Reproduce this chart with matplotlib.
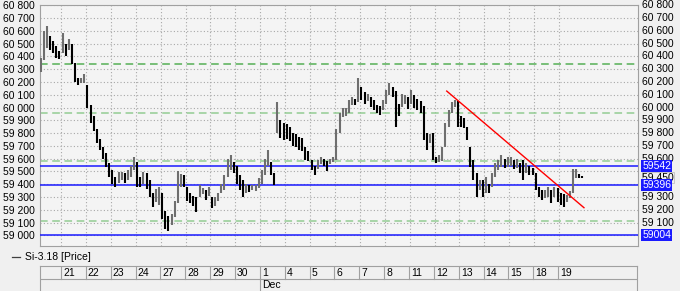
import numpy as np
import matplotlib
matplotlib.use("Agg")
import matplotlib.pyplot as plt
from matplotlib.lines import Line2D

plt.rcParams['font.family'] = ['Liberation Sans', 'DejaVu Sans']

# trading days shown on the time axis (first one is only partly visible)
day_labels = ["20", "21", "22", "23", "24", "27", "28", "29", "30", "1", "4",
              "5", "6", "7", "8", "11", "12", "13", "14", "15", "18", "19"]
month_label = "Dec"
month_start = 9  # index of "1" in day_labels
bars_per_day = [7] + [8] * 21

# bar highs / lows, day by day
highs = [60390, 60600, 60640, 60560, 60520, 60480, 60440,
         60585, 60500, 60535, 60500, 60350, 60235, 60230, 60265,
         60180, 60020, 59930, 59830, 59750, 59690, 59645, 59565,
         59510, 59460, 59495, 59495, 59490, 59510, 59540, 59615,
         59570, 59460, 59495, 59485, 59430, 59330, 59360, 59380,
         59330, 59190, 59150, 59170, 59270, 59500, 59480, 59470,
         59380, 59330, 59310, 59300, 59390, 59370, 59355, 59380,
         59300, 59300, 59330, 59405, 59470, 59600, 59630, 59570,
         59540, 59470, 59430, 59405, 59390, 59390, 59395, 59445,
         59510, 59600, 59670, 59570, 59490, 60045, 59900, 59880,
         59870, 59850, 59800, 59790, 59770, 59760, 59690, 59660,
         59590, 59540, 59590, 59615, 59600, 59580, 59600, 59615,
         59830, 59960, 60000, 60000, 60060, 60080, 60070, 60230,
         60160, 60120, 60110, 60080, 60060, 60020, 60010, 60060,
         60140, 60190, 60160, 60130, 60030, 60110, 60100, 60080,
         60135, 60100, 60070, 60055, 60010, 59800, 59790, 59800,
         59615, 59630, 59690, 59880, 59980, 60040, 60060, 60050,
         59930, 59920, 59850, 59690, 59590, 59485, 59430, 59430,
         59455, 59405, 59485, 59565, 59590, 59630, 59600, 59615,
         59615, 59590, 59600, 59565, 59590, 59565, 59540, 59530,
         59485, 59380, 59355, 59355, 59380, 59355, 59380, 59370,
         59330, 59320, 59315, 59345, 59515, 59520, 59480, 59465]
lows = [60280, 60370, 60470, 60450, 60430, 60390, 60380,
        60430, 60400, 60450, 60340, 60200, 60175, 60190, 60195,
        60000, 59880, 59820, 59720, 59665, 59600, 59535, 59455,
        59400, 59375, 59410, 59430, 59410, 59435, 59455, 59510,
        59380, 59380, 59405, 59360, 59300, 59220, 59260, 59240,
        59130, 59050, 59030, 59080, 59140, 59250, 59380, 59380,
        59270, 59250, 59230, 59180, 59300, 59320, 59280, 59310,
        59210, 59230, 59270, 59330, 59355, 59460, 59510, 59485,
        59400, 59355, 59300, 59330, 59340, 59355, 59350, 59370,
        59405, 59470, 59540, 59470, 59390, 59800, 59760, 59745,
        59750, 59740, 59700, 59690, 59670, 59660, 59590, 59580,
        59510, 59470, 59520, 59560, 59545, 59500, 59560, 59570,
        59590, 59800, 59925, 59930, 59955, 60020, 60020, 60040,
        60060, 60030, 60050, 60005, 59980, 59955, 59945, 59980,
        60030, 60100, 60080, 59850, 59930, 60005, 60030, 59990,
        60030, 60000, 59980, 59955, 59745, 59670, 59720, 59590,
        59565, 59575, 59580, 59690, 59850, 59960, 60005, 59850,
        59850, 59840, 59745, 59535, 59430, 59300, 59355, 59300,
        59330, 59330, 59380, 59455, 59510, 59535, 59530, 59535,
        59540, 59520, 59525, 59485, 59430, 59485, 59470, 59470,
        59355, 59300, 59275, 59290, 59300, 59250, 59300, 59260,
        59235, 59225, 59260, 59295, 59330, 59450, 59450, 59445]
last_price = 59450

green_levels = [60340, 59960, 59584, 59114]
blue_levels = [59542, 59396, 59004]
trend_start = (16.49, 60129)
trend_end = (22.0, 59216)

W, H = 680, 291
fig = plt.figure(figsize=(W / 100, H / 100), dpi=100, facecolor='#f0f0f0')
ax = fig.add_axes([40 / W, (H - 246) / H, 598 / W, 241 / H], facecolor='#f4f4f4')
ax.set_xlim(0.157, 24.17)
ax.set_ylim(58916, 60803)

# bar positions: 8 slots per day, first day only the last 7 slots
xs = []
for d, n in enumerate(bars_per_day):
    for k in range(8 - n, 8):
        xs.append(d + (k + 0.5) / 8)
xs = np.array(xs)
highs = np.array(highs)
lows = np.array(lows)
mids = (highs + lows) / 2
prev = np.concatenate([[mids[0]], mids[:-1]])
cols = np.where(mids >= prev, '#6e6e6e', '#000000')
ax.vlines(xs, lows, highs, colors=cols, lw=1.5, zorder=4)

# grid
yt = np.arange(59000, 60801, 100)
for v in yt:
    ax.axhline(v, color='#a8a8a8', lw=0.8, ls=(0, (1, 2)), zorder=1)
for d in range(1, len(day_labels)):
    ax.axvline(d, color='#a8a8a8', lw=0.8, ls=(0, (1, 2)), zorder=1)

for i, v in enumerate(green_levels):
    c = '#55b055' if i == 0 else '#93cc93'
    ax.axhline(v, color=c, lw=1.1, ls=(0, (5, 3)), zorder=2)
for v in blue_levels:
    ax.axhline(v, color='#1a1aff', lw=1.1, zorder=3)

ax.plot([trend_start[0], trend_end[0]], [trend_start[1], trend_end[1]],
        color='#ff0000', lw=1.0, zorder=5)

ax.set_xticks([])
ax.set_yticks(yt)
fmt = lambda v: f"{v // 1000} {v % 1000:03d}"
ax.set_yticklabels([fmt(v) for v in yt])
ax.tick_params(axis='y', length=0, labelsize=7.5, pad=4, colors='#000000')
for s in ax.spines.values():
    s.set_color('#a0a0a0')
    s.set_linewidth(0.8)

# right side labels
tr = ax.get_yaxis_transform()
hidden = {59000, 59400, 59500}
for v in yt:
    if v in hidden:
        continue
    ax.text(1.007, v, fmt(v), transform=tr, fontsize=7.5, va='center', ha='left', clip_on=False)
ax.text(1.007, last_price, fmt(last_price), transform=tr, fontsize=7.5, va='center', ha='left',
        clip_on=False, zorder=9,
        bbox=dict(boxstyle='square,pad=0.03', fc='#f0f0f0', ec='#c0c0c0', lw=0.6))
for v in blue_levels:
    ax.text(1.007, v, str(v), transform=tr, fontsize=7.5, va='center', ha='left', color='white',
            clip_on=False, zorder=10,
            bbox=dict(boxstyle='square,pad=0.08', fc='#1a1aff', ec='none'))

# time axis box
tax = fig.add_axes([40 / W, 0, 597 / W, 25 / H], facecolor='#f0f0f0')
tax.set_xlim(ax.get_xlim())
tax.set_ylim(0, 2)
tax.set_xticks([])
tax.set_yticks([])
for s in tax.spines.values():
    s.set_color('#a0a0a0')
    s.set_linewidth(0.8)
tax.spines['bottom'].set_visible(False)
tax.axhline(0.95, color='#a0a0a0', lw=0.8)
for d in range(1, len(day_labels)):
    tax.plot([d, d], [0.95, 2], color='#a0a0a0', lw=0.8)
    tax.text(d + 0.08, 1.45, day_labels[d], fontsize=7.5, va='center', ha='left')
tax.plot([month_start, month_start], [0, 0.95], color='#a0a0a0', lw=0.8)
tax.text(month_start + 0.08, 0.45, month_label, fontsize=7.5, va='center', ha='left')

# legend entry
fig.add_artist(Line2D([12 / W, 20 / W], [(H - 257) / H] * 2, color='#404040', lw=0.9))
fig.text(25 / W, (H - 257) / H, "Si-3.18 [Price]", fontsize=7.5, va='center', ha='left')

fig.savefig("out.png", dpi=100, facecolor=fig.get_facecolor())
